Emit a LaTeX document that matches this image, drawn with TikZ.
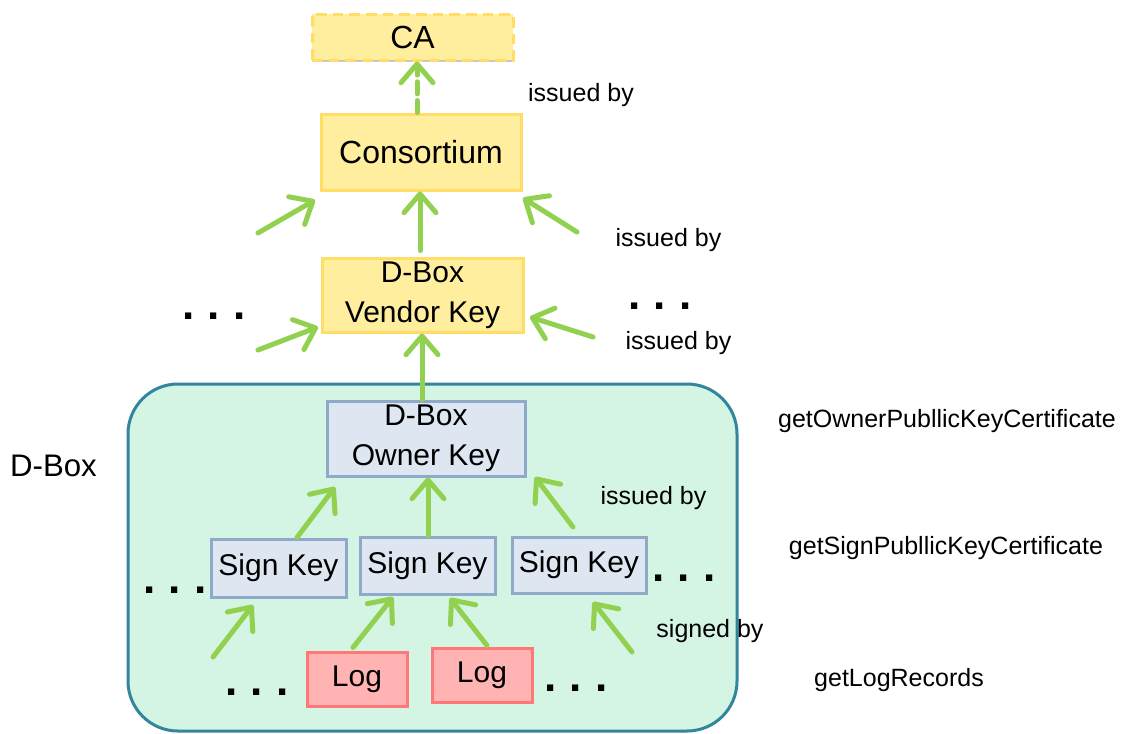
\documentclass[tikz,border=0pt]{standalone}
\usepackage{fontspec}
\setmainfont{Liberation Sans}
\usetikzlibrary{arrows.meta,shadows,calc}
\definecolor{ylfill}{HTML}{FFEE9E}
\definecolor{yldraw}{HTML}{FFDD66}
\definecolor{blfill}{HTML}{DEE7F1}
\definecolor{bldraw}{HTML}{8FAAC9}
\definecolor{pkfill}{HTML}{FFB3B3}
\definecolor{pkdraw}{HTML}{FF7777}
\definecolor{bxfill}{HTML}{D4F5E4}
\definecolor{bxdraw}{HTML}{31859C}
\definecolor{arrgreen}{HTML}{92D050}
\newcommand{\threedots}{.\hspace{10pt}.\hspace{10pt}.}
\begin{document}
\begin{tikzpicture}[x=0.75pt,y=-0.75pt,
 box/.style={rectangle, line width=2.25pt, inner sep=0pt, align=center,
   font=\fontsize{22.5}{30}\selectfont,
   drop shadow={shadow xshift=0pt, shadow yshift=-1.8pt, opacity=0.22, fill=black}},
 ybox/.style={box, fill=ylfill, draw=yldraw},
 bbox/.style={box, fill=blfill, draw=bldraw},
 pbox/.style={box, fill=pkfill, draw=pkdraw},
 arr/.style={draw=arrgreen, line width=3.75pt, line cap=round,
   -{Straight Barb[length=14pt,width=24pt,line width=3.75pt,round]}},
 lbl/.style={font=\fontsize{18.75}{22}\selectfont, inner sep=0pt},
 dotsnode/.style={font=\bfseries\fontsize{33}{33}\selectfont, inner sep=0pt}
]
\useasboundingbox (0,0) rectangle (1121,733);

% container
\node[draw=bxdraw, fill=bxfill, line width=2.25pt, rounded corners=37.5pt,
  minimum width=456.75pt, minimum height=260.25pt, inner sep=0pt] (dbox) at (432.5,557.5) {};
\node[font=\fontsize{23.4}{28}\selectfont, inner sep=0pt] (dboxlbl) at (53.5,466) {D-Box};

% boxes
\node[ybox, dash pattern=on 8pt off 4.5pt, minimum width=150.75pt, minimum height=34.5pt,
  font=\fontsize{24}{28}\selectfont] (ca) at (412.5,37) {CA};
\node[ybox, minimum width=150pt, minimum height=57pt, font=\fontsize{24}{28}\selectfont] (cons) at (421,152) {Consortium};
\node[ybox, minimum width=150.75pt, minimum height=55.5pt] (vendor) at (422.5,295) {D-Box\\Vendor Key};
\node[bbox, minimum width=148.5pt, minimum height=56.25pt] (owner) at (426,438.5) {D-Box\\Owner Key};
\node[bbox, minimum width=101.25pt, minimum height=43.5pt] (sk1) at (278.5,568) {Sign Key};
\node[bbox, minimum width=101.25pt, minimum height=42.75pt] (sk2) at (427.5,565.5) {Sign Key};
\node[bbox, minimum width=100.5pt, minimum height=42pt] (sk3) at (579,565) {Sign Key};
\node[pbox, minimum width=75pt, minimum height=40.5pt] (log1) at (357,679) {Log};
\node[pbox, minimum width=75pt, minimum height=40.5pt] (log2) at (482,675) {Log};

% connector ends
\coordinate (a1t) at ($(cons.north)+(-4,0)$);
\coordinate (a3t) at ($(vendor.north)+(-2.5,-6)$);
\coordinate (a7t) at ($(owner.north)+(-4,0)$);
\coordinate (a9t) at ($(sk2.north)+(0.5,0)$);
\coordinate (a8t) at ($(sk1.north)+(18.5,0)$);
\coordinate (a12t) at ($(log1.north)+(-4,-3)$);
\coordinate (a13t) at ($(log2.north)+(5,-1)$);
\coordinate (a2t) at (258,233); \coordinate (a2h) at (315,200);
\coordinate (a4t) at (577,232); \coordinate (a4h) at (523,198);
\coordinate (a5t) at (258,350); \coordinate (a5h) at (318,327);
\coordinate (a6t) at (593,337); \coordinate (a6h) at (530,317);
\coordinate (a8h) at (335,487);
\coordinate (a10t) at (573,527); \coordinate (a10h) at (535,477);
\coordinate (a11t) at (213,657); \coordinate (a11h) at (253,605);
\coordinate (a12h) at (393,597);
\coordinate (a13h) at (450,598);
\coordinate (a14t) at (632,652); \coordinate (a14h) at (593,602);

% arrows
\draw[arr, dash pattern=on 9pt off 5pt] (a1t) -- (a1t |- ca.south);
\draw[arr] (a2t) -- (a2h);
\draw[arr] (a3t) -- (a3t |- cons.south);
\draw[arr] (a4t) -- (a4h);
\draw[arr] (a5t) -- (a5h);
\draw[arr] (a6t) -- (a6h);
\draw[arr] (a7t) -- (a7t |- vendor.south);
\draw[arr] (a8t) -- (a8h);
\draw[arr] (a9t) -- (a9t |- owner.south);
\draw[arr] (a10t) -- (a10h);
\draw[arr] (a11t) -- (a11h);
\draw[arr] (a12t) -- (a12h);
\draw[arr] (a13t) -- (a13h);
\draw[arr] (a14t) -- (a14h);

% labels
\node[lbl] (l1) at (581,95) {issued by};
\node[lbl] (l2) at (668.5,240) {issued by};
\node[lbl] (l3) at (678.5,343) {issued by};
\node[lbl] (l4) at (653.5,498) {issued by};
\node[lbl] (l5) at (710,631) {signed by};
\node[lbl] (g1) at (947,421) {getOwnerPubllicKeyCertificate};
\node[lbl] (g2) at (946,548) {getSignPubllicKeyCertificate};
\node[lbl] (g3) at (899,680) {getLogRecords};

% dots
\node[dotsnode] (d1) at (214,316) {\threedots};
\node[dotsnode] (d2) at (660,306) {\threedots};
\node[dotsnode] (d3) at (175,590) {\threedots};
\node[dotsnode] (d4) at (684,578) {\threedots};
\node[dotsnode] (d5) at (257,692) {\threedots};
\node[dotsnode] (d6) at (576,688) {\threedots};
\end{tikzpicture}
\end{document}
